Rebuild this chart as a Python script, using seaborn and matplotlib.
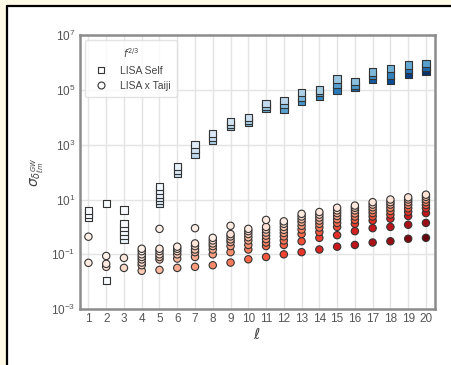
import numpy as np
import pandas as pd
import seaborn as sns
import matplotlib.pyplot as plt
from matplotlib.lines import Line2D
from matplotlib.patches import Rectangle
from matplotlib.ticker import NullLocator

# multipole index
ell = list(range(1, 21))

# LISA self-correlation uncertainty, one list per multipole (values for the m modes)
lisa_self = [
    [4.0, 3.0, 2.3],
    [7.0, 0.011],
    [4.2, 1.3, 0.95, 0.7, 0.5, 0.35],
    [],
    [30, 22, 16, 12, 9, 7],
    [160, 120, 90],
    [1000, 700, 450],
    [2500, 1900, 1400],
    [7000, 5500, 4500],
    [10000, 8000, 6500],
    [32000, 26000, 22000],
    [40000, 30000, 20000],
    [80000, 55000, 38000],
    [100000, 80000, 60000],
    [250000, 160000, 100000],
    [200000, 150000, 120000],
    [450000, 330000, 250000],
    [600000, 350000, 220000],
    [800000, 550000, 380000],
    [900000, 650000, 480000],
]

# LISA x Taiji cross-correlation uncertainty, one list per multipole
lisa_taiji = [
    [0.44, 0.049],
    [0.087, 0.045, 0.035],
    [0.074, 0.032],
    [0.16, 0.13, 0.10, 0.08, 0.065, 0.05, 0.04, 0.025],
    [0.85, 0.16, 0.13, 0.10, 0.08, 0.065, 0.027],
    [0.19, 0.16, 0.13, 0.10, 0.07, 0.032],
    [0.9, 0.25, 0.2, 0.15, 0.12, 0.08, 0.035],
    [0.4, 0.32, 0.25, 0.2, 0.15, 0.1, 0.04],
    [1.1, 0.55, 0.45, 0.35, 0.28, 0.2, 0.12, 0.05],
    [0.85, 0.7, 0.55, 0.42, 0.32, 0.22, 0.15, 0.066],
    [1.8, 1.0, 0.8, 0.62, 0.48, 0.36, 0.27, 0.2, 0.08],
    [1.6, 1.3, 1.0, 0.78, 0.6, 0.45, 0.32, 0.22, 0.1],
    [3.0, 2.4, 1.9, 1.5, 1.1, 0.8, 0.55, 0.3, 0.12],
    [3.5, 2.8, 2.2, 1.7, 1.3, 0.95, 0.65, 0.4, 0.15],
    [5.0, 4.0, 3.2, 2.5, 1.9, 1.4, 1.0, 0.5, 0.19],
    [6.0, 5.0, 4.0, 3.1, 2.4, 1.8, 1.3, 0.7, 0.22],
    [8.0, 6.5, 5.2, 4.1, 3.2, 2.4, 1.7, 0.9, 0.27],
    [10.0, 8.0, 6.5, 5.0, 3.8, 2.8, 2.0, 1.0, 0.3],
    [12.0, 10.0, 8.0, 6.3, 4.8, 3.6, 2.5, 1.2, 0.37],
    [15.0, 12.5, 10.0, 8.0, 6.3, 4.8, 3.2, 1.4, 0.4],
]

y_ticks = [1e-3, 1e-1, 1e1, 1e3, 1e5, 1e7]
legend_labels = ["LISA Self", "LISA x Taiji"]


def long_table(columns, fade):
    rows = []
    for l, vals in zip(ell, columns):
        vals = sorted(vals)
        n = len(vals)
        for r, v in enumerate(vals):
            shade = l * (1 - fade * r / max(n, 1))
            rows.append({"ell": l, "val": v, "shade": shade})
    return pd.DataFrame(rows)


df_self = long_table(lisa_self, 0.6)
df_taiji = long_table(lisa_taiji, 1.0)

sns.set_theme(style="whitegrid")
plt.rcParams["font.family"] = ["Liberation Sans", "DejaVu Sans"]

fig = plt.figure(figsize=(4.52, 3.65), dpi=100, facecolor="#fefae6")
# white page area with a dark rule along its top and left edges
fig.patches.append(Rectangle((7 / 452, 0), 1, 1 - 6 / 365,
                             transform=fig.transFigure, facecolor="white",
                             edgecolor="none", zorder=-2))
fig.add_artist(Line2D([7 / 452, 7 / 452], [0, 1 - 6 / 365], color="black",
                      linewidth=1.6, transform=fig.transFigure))
fig.add_artist(Line2D([7 / 452, 1], [1 - 6 / 365, 1 - 6 / 365], color="black",
                      linewidth=1.6, transform=fig.transFigure))

ax = fig.add_axes([0.176, 0.153, 0.786, 0.751])
ax.set_facecolor("white")

sns.scatterplot(data=df_taiji, x="ell", y="val", hue="shade", palette="Reds",
                hue_norm=(0, 20), marker="o", s=28, edgecolor="#333333",
                linewidth=0.8, legend=False, ax=ax, zorder=3)
sns.scatterplot(data=df_self, x="ell", y="val", hue="shade", palette="Blues",
                hue_norm=(2, 20), marker="s", s=28, edgecolor="#333333",
                linewidth=0.8, legend=False, ax=ax, zorder=3)

ax.set_yscale("log")
ax.set_ylim(1e-3, 1e7)
ax.set_yticks(y_ticks)
ax.yaxis.set_minor_locator(NullLocator())
ax.set_xlim(0.5, 20.5)
ax.set_xticks(ell)
ax.set_xticklabels([str(v) for v in ell])

ax.grid(True, color="#e4e4e4", linewidth=1.0)
for sp in ax.spines.values():
    sp.set_color("#8c8c8c")
    sp.set_linewidth(1.8)
ax.tick_params(axis="both", labelsize=8.5, colors="#555555", pad=3, length=0)

ax.set_xlabel(r"$\ell$", fontsize=11, color="#444444", labelpad=1)
ax.set_ylabel(r"$\sigma_{\delta^{GW}_{\ell m}}$", fontsize=10, color="#444444", labelpad=4)

handles = [
    Line2D([], [], linestyle="none", marker="s", markersize=5,
           markerfacecolor="white", markeredgecolor="#333333", markeredgewidth=0.8),
    Line2D([], [], linestyle="none", marker="o", markersize=5,
           markerfacecolor="white", markeredgecolor="#333333", markeredgewidth=0.8),
]
leg = ax.legend(handles, legend_labels, title=r"$f^{2/3}$", loc="upper left",
                fontsize=7.5, title_fontsize=7, frameon=True, borderpad=0.6,
                handletextpad=0.8, labelspacing=0.5)
leg.get_frame().set_edgecolor("#dddddd")
for t in leg.get_texts():
    t.set_color("#444444")
leg.get_title().set_color("#444444")

fig.savefig("out.png", dpi=100, facecolor=fig.get_facecolor())
